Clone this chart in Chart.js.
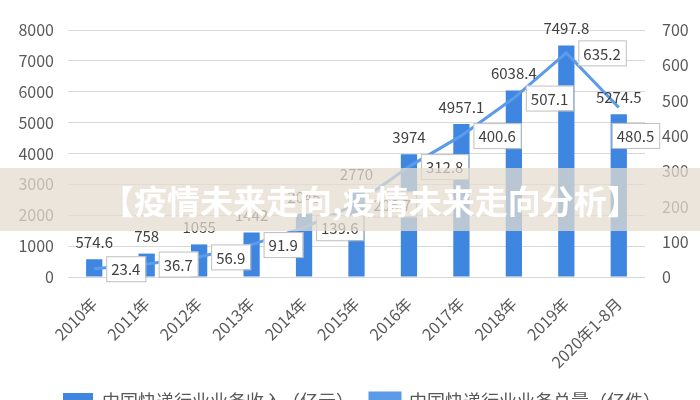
<!DOCTYPE html>
<html>
<head>
<meta charset="utf-8">
<script src="https://cdn.jsdelivr.net/npm/chart.js@4/dist/chart.umd.min.js"></script>
<style>
  html, body { margin: 0; padding: 0; background: #fff; overflow: hidden; width: 700px; height: 400px; }
  #wrap { width: 700px; height: 420px; }
</style>
</head>
<body>
<div id="wrap"><canvas id="c" width="700" height="420"></canvas></div>
<script>
// 数据
const categories = ['2010年', '2011年', '2012年', '2013年', '2014年', '2015年',
  '2016年', '2017年', '2018年', '2019年', '2020年1-8月'];
const revenue = [574.6, 758, 1055, 1442, 2045, 2770, 3974, 4957.1, 6038.4, 7497.8, 5274.5];
const volume = [23.4, 36.7, 56.9, 91.9, 139.6, 206.7, 312.8, 400.6, 507.1, 635.2, 480.5];
const leftTicks = [0, 1000, 2000, 3000, 4000, 5000, 6000, 7000, 8000];
const rightTicks = [0, 100, 200, 300, 400, 500, 600, 700];

const seriesNames = ['中国快递行业业务收入（亿元）', '中国快递行业业务总量（亿件）'];
const bannerText = '【疫情未来走向,疫情未来走向分析】';

const FONT = "'Noto Sans CJK SC', 'Noto Sans', sans-serif";
const barColor = '#3f86e0';
const lineColor = '#5b9be8';
const textColor = '#595959';

// 数据标签
const labelPlugin = {
  id: 'valueLabels',
  afterLayout(chart) {
    // 图例稍微右移
    chart.legend.left += 4;
    chart.legend.right += 4;
  },
  afterDatasetsDraw(chart) {
    const ctx = chart.ctx;
    ctx.save();
    ctx.font = '15px ' + FONT;
    ctx.textBaseline = 'middle';

    // 柱子上方
    const barMeta = chart.getDatasetMeta(0);
    ctx.textAlign = 'center';
    ctx.fillStyle = '#404040';
    barMeta.data.forEach((bar, i) => {
      ctx.fillText(String(revenue[i]), bar.x, bar.y - 17);
    });

    // 折线右侧白框
    const lineMeta = chart.getDatasetMeta(1);
    ctx.textAlign = 'left';
    lineMeta.data.forEach((pt, i) => {
      const txt = String(volume[i]);
      const w = ctx.measureText(txt).width + 10;
      const h = 25;
      let x = pt.x + 12;
      let y = pt.y - h / 2;
      if (i === lineMeta.data.length - 1) { x = pt.x - 7; y += 28; }
      ctx.fillStyle = '#ffffff';
      ctx.fillRect(x, y, w, h);
      ctx.strokeStyle = '#bfbfbf';
      ctx.lineWidth = 1;
      ctx.strokeRect(x + 0.5, y + 0.5, w, h);
      ctx.fillStyle = '#404040';
      ctx.fillText(txt, x + 5, y + h / 2 + 1);
    });
    ctx.restore();
  }
};

// 标题横幅
const bannerPlugin = {
  id: 'banner',
  afterDraw(chart) {
    const ctx = chart.ctx;
    ctx.save();
    ctx.fillStyle = 'rgba(228, 220, 206, 0.74)';
    ctx.fillRect(0, 168, chart.width, 63);
    ctx.font = 'bold 33px ' + FONT;
    ctx.fillStyle = '#ffffff';
    ctx.textAlign = 'left';
    ctx.textBaseline = 'middle';
    ctx.fillText(bannerText, 101, 201);
    ctx.restore();
  }
};

new Chart(document.getElementById('c'), {
  data: {
    labels: categories,
    datasets: [
      {
        type: 'bar',
        label: seriesNames[0],
        data: revenue,
        backgroundColor: barColor,
        yAxisID: 'y',
        categoryPercentage: 1,
        barPercentage: 0.31,
        order: 2
      },
      {
        type: 'line',
        label: seriesNames[1],
        data: volume,
        borderColor: lineColor,
        backgroundColor: lineColor,
        borderWidth: 3,
        pointRadius: 0,
        tension: 0,
        yAxisID: 'y1',
        order: 1
      }
    ]
  },
  options: {
    responsive: false,
    animation: false,
    devicePixelRatio: 1,
    layout: { padding: { top: 30, left: 16, right: 0, bottom: 0 } },
    plugins: {
      legend: {
        position: 'bottom',
        labels: {
          font: { size: 18, family: FONT },
          color: textColor,
          boxWidth: 30,
          boxHeight: 16,
          padding: 16,
          sort: (a, b) => a.datasetIndex - b.datasetIndex
        }
      },
      tooltip: { enabled: false }
    },
    scales: {
      x: {
        grid: { display: false },
        border: { display: false },
        ticks: {
          font: { size: 16, family: FONT },
          color: textColor,
          minRotation: 45,
          maxRotation: 45,
          padding: 9,
          autoSkip: false
        },
        afterFit(scale) { scale.height = 99; }
      },
      y: {
        position: 'left',
        min: 0,
        max: 8000,
        afterBuildTicks(scale) { scale.ticks = leftTicks.map(v => ({ value: v })); },
        grid: { color: '#d9d9d9', drawTicks: false },
        border: { display: false },
        ticks: {
          font: { size: 16, family: FONT }, color: textColor, padding: 14,
          callback: v => String(v)
        },
        afterFit(scale) { scale.width = 52; }
      },
      y1: {
        position: 'right',
        min: 0,
        max: 700,
        afterBuildTicks(scale) { scale.ticks = rightTicks.map(v => ({ value: v })); },
        grid: { display: false, drawTicks: false },
        border: { display: false },
        ticks: {
          font: { size: 16, family: FONT }, color: textColor, padding: 17,
          callback: v => String(v)
        },
        afterFit(scale) { scale.width = 55; }
      }
    }
  },
  plugins: [labelPlugin, bannerPlugin]
});
</script>
</body>
</html>
